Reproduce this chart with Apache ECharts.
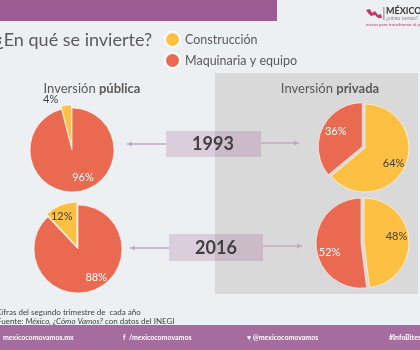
<!DOCTYPE html>
<html>
<head>
<meta charset="utf-8">
<script src="https://cdn.jsdelivr.net/npm/echarts@6/dist/echarts.min.js"></script>
<style>
html, body { margin: 0; padding: 0; background: #edf0f3; }
#chart { width: 420px; height: 350px; }
</style>
</head>
<body>
<div id="chart"></div>
<script>
// datos
var categorias = ['Construcción', 'Maquinaria y equipo'];
var colores = ['#fec042', '#ea6a51'];
var anios = ['1993', '2016'];
var publica1993 = [4, 96];
var publica2016 = [12, 88];
var privada1993 = [64, 36];
var privada2016 = [48, 52];

var fuente = 'Lato, "Open Sans", sans-serif';

// arma un pastel; orden = orden de las rebanadas en sentido horario desde las 12
function pastel(nombre, valores, orden, centro, radio, resaltado, offsets) {
    var data = orden.map(function (i) {
        var etiqueta = { color: i === 0 ? '#404040' : '#ffffff', offset: offsets[i] };
        return {
            name: categorias[i],
            value: valores[i],
            selected: i === resaltado,
            itemStyle: { color: colores[i] },
            label: etiqueta,
            select: { label: etiqueta }
        };
    });
    return {
        name: nombre,
        type: 'pie',
        center: centro,
        radius: radio,
        startAngle: 90,
        selectedMode: 'multiple',
        selectedOffset: 3,
        silent: true,
        label: { show: true, position: 'inside', formatter: '{c}%', fontSize: 11, fontFamily: fuente },
        labelLine: { show: false },
        itemStyle: { borderColor: '#ffffff', borderWidth: 0.6 },
        data: data
    };
}

function flecha(x1, x2, y) {
    var d = x2 > x1 ? -1 : 1;
    return [
        { type: 'line', z: 1, shape: { x1: x1, y1: y, x2: x2, y2: y }, style: { stroke: '#c4a9c2', lineWidth: 1.5 } },
        { type: 'polygon', z: 1, shape: { points: [[x2, y], [x2 + d * 5, y - 2.5], [x2 + d * 5, y + 2.5]] }, style: { fill: '#c4a9c2' } }
    ];
}

var chart = echarts.init(document.getElementById('chart'));

var graficos = [
    // panel gris de inversión privada
    { type: 'rect', z: 0, shape: { x: 215, y: 73, width: 203, height: 221 }, style: { fill: '#d9d9d9' } },
    // barra superior
    { type: 'rect', z: 0, shape: { x: 0, y: 0, width: 277, height: 21 }, style: { fill: '#9c5b92' } },
    // logo
    { type: 'polygon', z: 1, shape: { points: [[366, 10], [370, 9], [372, 13], [375, 11], [378, 15], [381, 14], [382, 18], [378, 18], [375, 15], [371, 16], [368, 13]] }, style: { fill: '#c2366d' } },
    { type: 'rect', z: 1, shape: { x: 383.5, y: 7, width: 0.8, height: 13 }, style: { fill: '#666' } },
    { type: 'text', z: 1, style: { x: 386, y: 11, text: 'MÉXICO', fontSize: 9, fontWeight: 'bold', fill: '#333', fontFamily: fuente, verticalAlign: 'middle' } },
    { type: 'text', z: 1, style: { x: 386, y: 18, text: '¿cómo vamos?', fontSize: 5, fill: '#888', fontFamily: fuente, verticalAlign: 'middle' } },
    { type: 'text', z: 1, style: { x: 366, y: 25, text: 'metas para transformar al país', fontSize: 4.5, fill: '#c2366d', fontFamily: fuente, verticalAlign: 'middle' } },
    // subtítulos
    { type: 'text', z: 1, style: { x: 92, y: 89, text: 'Inversión {b|pública}', rich: { b: { fontWeight: 'bold', fontSize: 13, fill: '#595959', fontFamily: fuente } }, fontSize: 13, fill: '#595959', fontFamily: fuente, align: 'center', verticalAlign: 'middle' } },
    { type: 'text', z: 1, style: { x: 330, y: 89, text: 'Inversión {b|privada}', rich: { b: { fontWeight: 'bold', fontSize: 13, fill: '#595959', fontFamily: fuente } }, fontSize: 13, fill: '#595959', fontFamily: fuente, align: 'center', verticalAlign: 'middle' } },
    // cajas de año
    { type: 'rect', z: 1, shape: { x: 166, y: 131, width: 95, height: 26 }, style: { fill: 'rgba(165,100,151,0.25)' } },
    { type: 'text', z: 1, style: { x: 213, y: 144, text: anios[0], fontSize: 18, fontWeight: 'bold', fill: '#404040', fontFamily: fuente, align: 'center', verticalAlign: 'middle' } },
    { type: 'rect', z: 1, shape: { x: 169, y: 234, width: 94, height: 27 }, style: { fill: 'rgba(165,100,151,0.25)' } },
    { type: 'text', z: 1, style: { x: 216, y: 248, text: anios[1], fontSize: 18, fontWeight: 'bold', fill: '#404040', fontFamily: fuente, align: 'center', verticalAlign: 'middle' } },
    // notas
    { type: 'text', z: 1, style: { x: -4, y: 312, text: 'Cifras del segundo trimestre de  cada año', fontSize: 8, fill: '#404040', fontFamily: fuente, verticalAlign: 'middle' } },
    { type: 'text', z: 1, style: { x: -3, y: 321, text: 'Fuente: {i|México, ¿Cómo Vamos?} con datos del INEGI', rich: { i: { fontStyle: 'italic', fontSize: 8, fill: '#404040', fontFamily: fuente } }, fontSize: 8, fill: '#404040', fontFamily: fuente, verticalAlign: 'middle' } },
    // pie de página
    { type: 'rect', z: 0, shape: { x: 0, y: 325, width: 420, height: 25 }, style: { fill: '#a66b9f' } },
    { type: 'text', z: 1, style: { x: 3, y: 338, text: 'mexicocomovamos.mx', fontSize: 7, fontWeight: 'bold', fill: '#ffffff', fontFamily: fuente, verticalAlign: 'middle' } },
    { type: 'text', z: 1, style: { x: 123, y: 338, text: 'f  /mexicocomovamos', fontSize: 7, fontWeight: 'bold', fill: '#ffffff', fontFamily: fuente, verticalAlign: 'middle' } },
    { type: 'text', z: 1, style: { x: 247, y: 338, text: '\u2665 @mexicocomovamos', fontSize: 7, fontWeight: 'bold', fill: '#ffffff', fontFamily: fuente, verticalAlign: 'middle' } },
    { type: 'text', z: 1, style: { x: 389, y: 338, text: '#InfoBites', fontSize: 7, fontWeight: 'bold', fill: '#ffffff', fontFamily: fuente, verticalAlign: 'middle' } }
]
    .concat(flecha(166, 127, 144))
    .concat(flecha(261, 299, 143))
    .concat(flecha(169, 130, 248))
    .concat(flecha(263, 302, 246));

var option = {
    backgroundColor: '#edf0f3',
    animation: false,
    title: {
        text: '¿En qué se invierte?',
        left: -4,
        top: 31,
        padding: 0,
        textStyle: { fontSize: 18, fontWeight: 'normal', color: '#595959', fontFamily: fuente }
    },
    legend: {
        orient: 'vertical',
        left: 164,
        top: 31,
        padding: 0,
        itemWidth: 15,
        itemHeight: 15,
        itemGap: 4,
        icon: 'circle',
        selectedMode: false,
        data: categorias,
        textStyle: { color: '#595959', fontSize: 12.5, fontFamily: fuente }
    },
    graphic: graficos,
    series: [
        pastel('Pública ' + anios[0], publica1993, [1, 0], [72, 150], 42, 0, [[-18, -24], [8, 4]]),
        pastel('Pública ' + anios[1], publica2016, [1, 0], [78, 249], 44, 0, [[-6, -7], [9, 5]]),
        pastel('Privada ' + anios[0], privada1993, [0, 1], [365, 148], 44, 1, [[6, 5], [-4, -5]]),
        pastel('Privada ' + anios[1], privada2016, [0, 1], [364, 243], 45, 1, [[7, -5], [-6, 8]])
    ]
};

chart.setOption(option);
</script>
</body>
</html>
